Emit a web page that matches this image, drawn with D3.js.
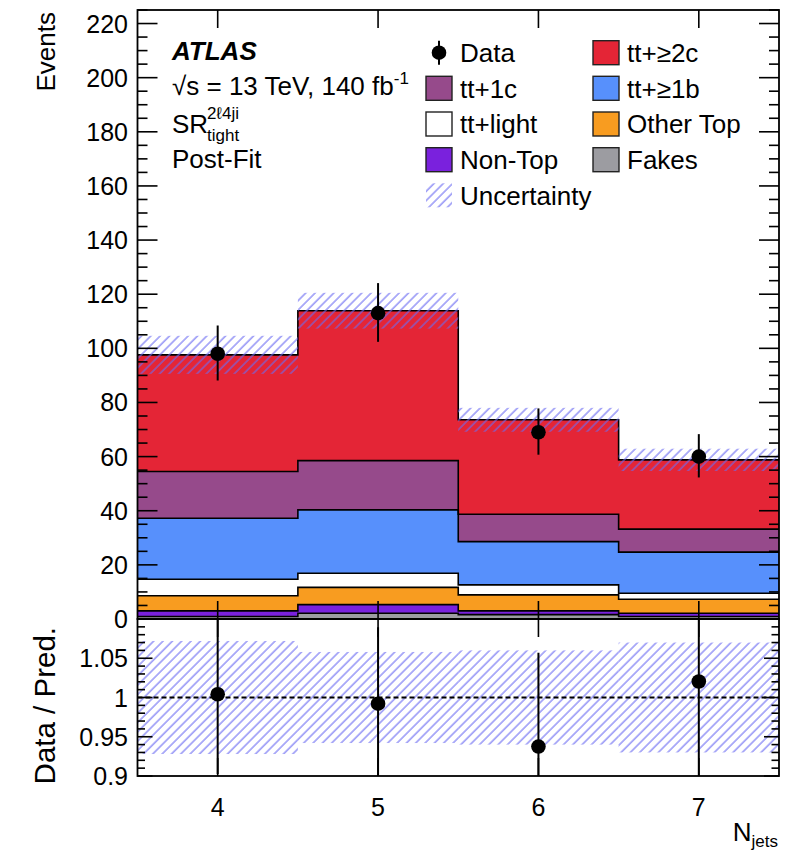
<!DOCTYPE html>
<html>
<head>
<meta charset="utf-8">
<script src="https://cdn.jsdelivr.net/npm/d3@7"></script>
<style>
  html, body { margin: 0; padding: 0; background: #fff; }
  svg { display: block; }
  text { font-family: "Liberation Sans", Arial, Helvetica, sans-serif; fill: #000; }
</style>
</head>
<body>
<svg id="chart" width="789" height="854"></svg>
<script>
// N_jets bins (bin centres)
const categories = [4, 5, 6, 7];

// Post-fit yields per process, bottom of the stack first
const fakes    = [0.9, 2.1, 1.6, 0.9];
const nonTop   = [2.1, 3.2, 1.4, 1.2];
const otherTop = [5.6, 6.4, 5.9, 5.2];
const ttLight  = [6.1, 5.2, 3.7, 2.2];
const tt1b     = [22.5, 23.4, 16.0, 15.2];
const tt1c     = [17.3, 18.2, 10.1, 8.5];
const tt2c     = [43.1, 55.4, 34.9, 25.6];

// Observed events and their (asymmetric) Poisson errors
const dataCounts = [98, 113, 69, 60];
const dataErrUp  = [10.4, 11.1, 8.8, 8.3];
const dataErrDn  = [9.9, 10.6, 8.3, 7.7];

// Relative post-fit uncertainty of the total prediction
const uncRel = [0.072, 0.058, 0.060, 0.070];

// Axis tick values and labels
const xTicks = [4, 5, 6, 7];
const yMainMajor = [0, 20, 40, 60, 80, 100, 120, 140, 160, 180, 200, 220];
const yRatioMajor = [0.9, 0.95, 1.0, 1.05];
const yRatioLabels = ["0.9", "0.95", "1", "1.05"];

const processes = [
  { key: "fakes",    label: "Fakes",     values: fakes,    color: "#9c9ca1" },
  { key: "nonTop",   label: "Non-Top",   values: nonTop,   color: "#7a21dd" },
  { key: "otherTop", label: "Other Top", values: otherTop, color: "#f89c20" },
  { key: "ttLight",  label: "tt+light",  values: ttLight,  color: "#ffffff" },
  { key: "tt1b",     label: "tt+≥1b",    values: tt1b,     color: "#5790fc" },
  { key: "tt1c",     label: "tt+1c",     values: tt1c,     color: "#964a8b" },
  { key: "tt2c",     label: "tt+≥2c",    values: tt2c,     color: "#e42536" }
];

const svg = d3.select("#chart");

// Frame geometry
const left = 137.5, right = 779;
const mainTop = 10, mainBottom = 619;
const ratioTop = 619, ratioBottom = 776;

const x = d3.scaleLinear().domain([3.5, 7.5]).range([left, right]);
const y = d3.scaleLinear().domain([0, 225]).range([mainBottom, mainTop]);
const yr = d3.scaleLinear().domain([0.9, 1.1]).range([ratioBottom, ratioTop]);

// Hatch pattern for the uncertainty band
const defs = svg.append("defs");
defs.append("pattern")
  .attr("id", "hatch")
  .attr("patternUnits", "userSpaceOnUse")
  .attr("width", 6.6).attr("height", 6.6)
  .attr("patternTransform", "rotate(45)")
  .append("line")
  .attr("x1", 1).attr("y1", 0).attr("x2", 1).attr("y2", 6.6)
  .attr("stroke", "#6b6bf2").attr("stroke-width", 1.1);

defs.append("clipPath").attr("id", "clipMain")
  .append("rect").attr("x", left).attr("y", mainTop)
  .attr("width", right - left).attr("height", mainBottom - mainTop);
defs.append("clipPath").attr("id", "clipRatio")
  .append("rect").attr("x", left).attr("y", ratioTop)
  .attr("width", right - left).attr("height", ratioBottom - ratioTop);

// Stack table built from the per-process arrays
const table = categories.map((c, i) => {
  const row = { bin: c };
  processes.forEach(p => { row[p.key] = p.values[i]; });
  return row;
});
const stack = d3.stack().keys(processes.map(p => p.key))(table);
const totals = table.map(r => d3.sum(processes, p => r[p.key]));

// Histogram-shaped points: two per bin, at the bin edges
function stepPoints(lowArr, highArr) {
  const pts = [];
  categories.forEach((c, i) => {
    pts.push({ x: c - 0.5, y0: lowArr[i], y1: highArr[i] });
    pts.push({ x: c + 0.5, y0: lowArr[i], y1: highArr[i] });
  });
  return pts;
}

const gMain = svg.append("g").attr("clip-path", "url(#clipMain)");

const area = d3.area().x(d => x(d.x)).y0(d => y(d.y0)).y1(d => y(d.y1));
const topLine = d3.line().x(d => x(d.x)).y(d => y(d.y1));

stack.forEach((layer, li) => {
  const pts = stepPoints(layer.map(d => d[0]), layer.map(d => d[1]));
  gMain.append("path").attr("d", area(pts)).attr("fill", processes[li].color);
});
stack.forEach((layer, li) => {
  const pts = stepPoints(layer.map(d => d[0]), layer.map(d => d[1]));
  gMain.append("path").attr("d", topLine(pts))
    .attr("fill", "none").attr("stroke", "#000").attr("stroke-width", 1.6);
});

// Uncertainty band on the total prediction
categories.forEach((c, i) => {
  const lo = totals[i] * (1 - uncRel[i]);
  const hi = totals[i] * (1 + uncRel[i]);
  gMain.append("rect")
    .attr("x", x(c - 0.5)).attr("width", x(c + 0.5) - x(c - 0.5))
    .attr("y", y(hi)).attr("height", y(lo) - y(hi))
    .attr("fill", "url(#hatch)");
});

// Data points
categories.forEach((c, i) => {
  gMain.append("line")
    .attr("x1", x(c)).attr("x2", x(c))
    .attr("y1", y(dataCounts[i] + dataErrUp[i])).attr("y2", y(dataCounts[i] - dataErrDn[i]))
    .attr("stroke", "#000").attr("stroke-width", 2);
  gMain.append("circle")
    .attr("cx", x(c)).attr("cy", y(dataCounts[i])).attr("r", 7.3).attr("fill", "#000");
});

// Ratio panel
const gRatio = svg.append("g").attr("clip-path", "url(#clipRatio)");
categories.forEach((c, i) => {
  gRatio.append("rect")
    .attr("x", x(c - 0.5)).attr("width", x(c + 0.5) - x(c - 0.5))
    .attr("y", yr(1 + uncRel[i])).attr("height", yr(1 - uncRel[i]) - yr(1 + uncRel[i]))
    .attr("fill", "url(#hatch)");
});
gRatio.append("line")
  .attr("x1", left).attr("x2", right).attr("y1", yr(1)).attr("y2", yr(1))
  .attr("stroke", "#000").attr("stroke-width", 2).attr("stroke-dasharray", "5,3");
categories.forEach((c, i) => {
  const r = dataCounts[i] / totals[i];
  gRatio.append("line")
    .attr("x1", x(c)).attr("x2", x(c))
    .attr("y1", yr(r + dataErrUp[i] / totals[i])).attr("y2", yr(r - dataErrDn[i] / totals[i]))
    .attr("stroke", "#000").attr("stroke-width", 2);
  gRatio.append("circle")
    .attr("cx", x(c)).attr("cy", yr(r)).attr("r", 7.3).attr("fill", "#000");
});

// Frames
const axes = svg.append("g").attr("stroke", "#000").attr("fill", "none");
axes.append("rect").attr("x", left).attr("y", mainTop)
  .attr("width", right - left).attr("height", mainBottom - mainTop).attr("stroke-width", 1.8);
axes.append("rect").attr("x", left).attr("y", ratioTop)
  .attr("width", right - left).attr("height", ratioBottom - ratioTop).attr("stroke-width", 1.8);

function tick(x1, y1, x2, y2) {
  axes.append("line").attr("x1", x1).attr("y1", y1).attr("x2", x2).attr("y2", y2)
    .attr("stroke-width", 1.6);
}

// Main y ticks (major every 20, minor every 5), both sides
d3.range(0, 226, 5).forEach(v => {
  const major = v % 20 === 0;
  const len = major ? 20 : 10;
  const py = y(v);
  tick(left, py, left + len, py);
  tick(right, py, right - len, py);
});
// Ratio y ticks (major every 0.05, minor every 0.01)
d3.range(0, 21).forEach(k => {
  const v = 0.9 + k * 0.01;
  const major = k % 5 === 0;
  const len = major ? 15 : 7.5;
  const py = yr(v);
  tick(left, py, left + len, py);
  tick(right, py, right - len, py);
});
// X ticks
xTicks.forEach(v => {
  tick(x(v), mainBottom, x(v), mainBottom - 18);
  tick(x(v), mainTop, x(v), mainTop + 18);
  tick(x(v), ratioBottom, x(v), ratioBottom - 18);
  tick(x(v), ratioTop, x(v), ratioTop + 18);
});

// Tick labels
const labels = svg.append("g").style("font-size", "25px");
yMainMajor.forEach(v => {
  labels.append("text").attr("x", 128).attr("y", y(v)).attr("dy", "0.36em")
    .attr("text-anchor", "end").text(v);
});
yRatioMajor.forEach((v, i) => {
  labels.append("text").attr("x", 128).attr("y", yr(v)).attr("dy", "0.36em")
    .attr("text-anchor", "end").text(yRatioLabels[i]);
});
xTicks.forEach(v => {
  labels.append("text").attr("x", x(v)).attr("y", 816)
    .attr("text-anchor", "middle").text(v);
});

// Axis titles
svg.append("text").attr("transform", "translate(55,12) rotate(-90)")
  .attr("text-anchor", "end").style("font-size", "26px").text("Events");
svg.append("text").attr("transform", "translate(55,627) rotate(-90)")
  .attr("text-anchor", "end").style("font-size", "29.5px").text("Data / Pred.");
const xt = svg.append("text").attr("x", 778).attr("y", 841)
  .attr("text-anchor", "end").style("font-size", "26px");
xt.append("tspan").text("N");
xt.append("tspan").attr("dy", 6).style("font-size", "17px").text("jets");

// Labels in the top-left corner
svg.append("text").attr("x", 172).attr("y", 60)
  .style("font-size", "26px").style("font-weight", "bold").style("font-style", "italic")
  .text("ATLAS");
const lumi = svg.append("text").attr("x", 172).attr("y", 95).style("font-size", "26px");
lumi.append("tspan").text("√s = 13 TeV, 140 fb");
lumi.append("tspan").attr("dy", -11).style("font-size", "17px").text("-1");
svg.append("text").attr("x", 172).attr("y", 133).style("font-size", "26px").text("SR");
svg.append("text").attr("x", 207).attr("y", 119).style("font-size", "17px").text("2ℓ4ji");
svg.append("text").attr("x", 207).attr("y", 141).style("font-size", "17px").text("tight");
svg.append("text").attr("x", 172).attr("y", 168).style("font-size", "26px").text("Post-Fit");

// Legend
const legend = svg.append("g");
const rowY = [52.7, 88.3, 124, 159.7, 195.3];
const col1 = 426, col2 = 593, boxW = 26, boxH = 24;
const legendItems = [
  { col: 0, row: 0, kind: "data", label: "Data" },
  { col: 1, row: 0, kind: "box", key: "tt2c" },
  { col: 0, row: 1, kind: "box", key: "tt1c" },
  { col: 1, row: 1, kind: "box", key: "tt1b" },
  { col: 0, row: 2, kind: "box", key: "ttLight" },
  { col: 1, row: 2, kind: "box", key: "otherTop" },
  { col: 0, row: 3, kind: "box", key: "nonTop" },
  { col: 1, row: 3, kind: "box", key: "fakes" },
  { col: 0, row: 4, kind: "unc", label: "Uncertainty" }
];
legendItems.forEach(it => {
  const bx = it.col === 0 ? col1 : col2;
  const cy = rowY[it.row];
  let label = it.label;
  if (it.kind === "data") {
    legend.append("line").attr("x1", bx + 13).attr("x2", bx + 13)
      .attr("y1", cy - 12).attr("y2", cy + 12).attr("stroke", "#000").attr("stroke-width", 2);
    legend.append("circle").attr("cx", bx + 13).attr("cy", cy).attr("r", 7.3).attr("fill", "#000");
  } else if (it.kind === "box") {
    const p = processes.find(q => q.key === it.key);
    label = p.label;
    legend.append("rect").attr("x", bx).attr("y", cy - boxH / 2)
      .attr("width", boxW).attr("height", boxH)
      .attr("fill", p.color).attr("stroke", "#222").attr("stroke-width", 1.4);
  } else {
    legend.append("rect").attr("x", bx).attr("y", cy - boxH / 2)
      .attr("width", boxW).attr("height", boxH).attr("fill", "url(#hatch)");
  }
  legend.append("text").attr("x", bx + 34).attr("y", cy + 9.3)
    .style("font-size", "26px").text(label);
});
</script>
</body>
</html>
